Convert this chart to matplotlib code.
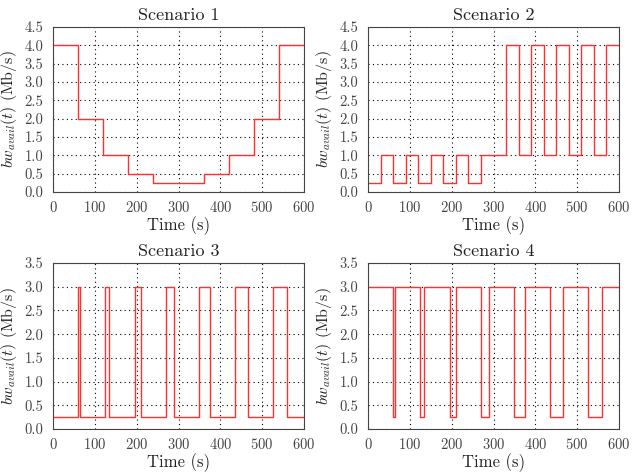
import numpy as np
import matplotlib
matplotlib.use('Agg')
import matplotlib.pyplot as plt

plt.rcParams['font.family'] = 'serif'
plt.rcParams['font.serif'] = ['cmr10', 'DejaVu Serif']
plt.rcParams['mathtext.fontset'] = 'cm'
plt.rcParams['axes.formatter.use_mathtext'] = True

# scenario 1
s1_t = [0, 60, 120, 180, 240, 360, 420, 480, 540, 600]
s1_bw = [4, 2, 1, 0.5, 0.25, 0.5, 1, 2, 4]

# scenario 2
s2_t = [0, 30, 60, 90, 120, 150, 180, 210, 240, 270, 330, 360, 390, 420,
        450, 480, 510, 540, 570, 600]
s2_bw = [0.25, 1, 0.25, 1, 0.25, 1, 0.25, 1, 0.25, 1, 4, 1, 4, 1, 4, 1, 4, 1, 4]

# scenario 3 / 4 switch points
s34_t = [0, 60, 65, 125, 135, 195, 210, 270, 290, 350, 375, 435, 465, 525, 560, 600]
s3_bw = [0.25, 3, 0.25, 3, 0.25, 3, 0.25, 3, 0.25, 3, 0.25, 3, 0.25, 3, 0.25]
s4_bw = [3, 0.25, 3, 0.25, 3, 0.25, 3, 0.25, 3, 0.25, 3, 0.25, 3, 0.25, 3]

panels = [
    ('Scenario 1', s1_t, s1_bw, 4.5),
    ('Scenario 2', s2_t, s2_bw, 4.5),
    ('Scenario 3', s34_t, s3_bw, 3.5),
    ('Scenario 4', s34_t, s4_bw, 3.5),
]

W, H = 633, 475
boxes = [
    (53, 27, 304, 192),
    (368, 27, 619, 192),
    (53, 263, 304, 429),
    (368, 263, 619, 429),
]

fig = plt.figure(figsize=(W / 100, H / 100), dpi=100)

for (title, t, bw, ymax), (x0, y0, x1, y1) in zip(panels, boxes):
    ax = fig.add_axes([x0 / W, (H - y1) / H, (x1 - x0) / W, (y1 - y0) / H])
    t = np.array(t)
    bw = np.array(bw + [bw[-1]])
    ax.step(t, bw, where='post', color='#ff3030', lw=1.0)
    ax.set_xlim(0, 600)
    ax.set_ylim(0, ymax)
    ax.set_xticks(np.arange(0, 601, 100))
    ax.set_yticks(np.arange(0, ymax + 0.01, 0.5))
    ax.set_yticklabels(['%.1f' % v for v in np.arange(0, ymax + 0.01, 0.5)])
    ax.grid(True, color='black', linestyle=(0, (1, 3)), lw=0.8)
    ax.tick_params(axis='y', length=0, pad=7, labelsize=10.5, colors='#444444')
    ax.tick_params(axis='x', length=0, pad=6, labelsize=10.5, colors='#444444')
    for sp in ax.spines.values():
        sp.set_color('#444444')
        sp.set_linewidth(0.8)
    ax.set_title(title, fontsize=13, pad=5, color='#222222')
    ax.set_xlabel('Time (s)', fontsize=12, labelpad=1, color='#222222')
    ax.set_ylabel(r'$bw_{avail}(t)$ (Mb/s)', fontsize=11.5, labelpad=4, color='#222222')

fig.savefig('out.png', dpi=100)
